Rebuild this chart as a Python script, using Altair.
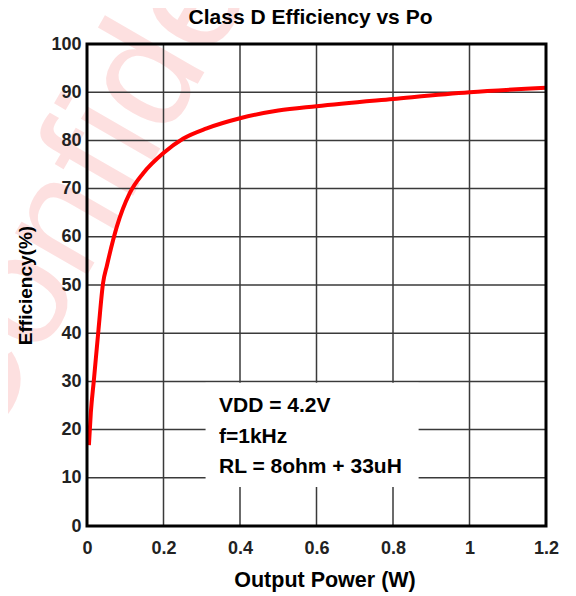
import altair as alt
import pandas as pd

# Data
power_w = [0.005, 0.01, 0.018, 0.03, 0.042, 0.052, 0.078, 0.112, 0.147, 0.2, 0.252, 0.313, 0.4, 0.5, 0.6, 0.8, 1.0, 1.2]
efficiency = [16.8, 23.5, 30.3, 40.7, 50.4, 54.0, 62.1, 69.1, 73.2, 77.4, 80.4, 82.5, 84.6, 86.2, 87.1, 88.6, 90.0, 90.9]

x_ticks = [0, 0.2, 0.4, 0.6, 0.8, 1.0, 1.2]
y_ticks = [0, 10, 20, 30, 40, 50, 60, 70, 80, 90, 100]

note_lines = ["VDD = 4.2V", "f=1kHz", "RL = 8ohm + 33uH"]
note_y = [23.6, 17.2, 10.9]

chart_title = "Class D Efficiency vs Po"
x_title = "Output Power (W)"
y_title = "Efficiency(%)"

FONT = "Liberation Sans"
W, H = 459, 482

curve = pd.DataFrame({"p": power_w, "eff": efficiency})
xg = pd.DataFrame({"p": x_ticks[1:-1]})
yg = pd.DataFrame({"eff": y_ticks[1:-1]})
notes = pd.DataFrame({"txt": note_lines, "eff": note_y, "p": [0.345] * len(note_lines)})
box_df = pd.DataFrame({"p": [0.31], "p2": [0.867], "eff": [29.7], "eff2": [8.1]})

xs = alt.Scale(domain=[0, 1.2], nice=False, zero=False)
ys = alt.Scale(domain=[0, 100], nice=False, zero=False)

xaxis = alt.Axis(values=x_ticks, format="~g", grid=False, ticks=False, domain=False, zindex=2,
                 labelFont=FONT, labelFontSize=18, labelFontWeight="bold", labelColor="#222",
                 labelPadding=13, titleFont=FONT, titleFontSize=21.5, titleFontWeight="bold",
                 titleColor="black", titlePadding=12, titleX=W / 2 + 8, labelFlush=False)
yaxis = alt.Axis(values=y_ticks, grid=False, ticks=False, domain=False, zindex=2,
                 labelFont=FONT, labelFontSize=18, labelFontWeight="bold", labelColor="#222",
                 labelPadding=6, titleFont=FONT, titleFontSize=19, titleFontWeight="bold",
                 titleColor="black", titlePadding=15, labelFlush=False)

X = lambda f: alt.X(f, scale=xs, axis=xaxis, title=x_title)
Y = lambda f: alt.Y(f, scale=ys, axis=yaxis, title=y_title)

watermark = alt.Chart(pd.DataFrame({"w": ["Confidential"]})).mark_text(
    font=FONT, fontSize=158, color="#fde0e0", angle=300,
    align="center", baseline="middle"
).encode(x=alt.value(62), y=alt.value(30), text="w:N")

title_mark = alt.Chart(pd.DataFrame({"t": [chart_title]})).mark_text(
    font=FONT, fontSize=21, fontWeight="bold", color="black",
    align="center", baseline="alphabetic"
).encode(x=alt.value(W / 2 - 6), y=alt.value(-20), text="t:N")

vgrid = alt.Chart(xg).mark_rule(color="#3a3a3a", strokeWidth=1.5).encode(x=X("p:Q"))
hgrid = alt.Chart(yg).mark_rule(color="#3a3a3a", strokeWidth=1.5).encode(y=Y("eff:Q"))

box = alt.Chart(box_df).mark_rect(fill="white").encode(
    x=X("p:Q"), x2="p2:Q", y=Y("eff:Q"), y2="eff2:Q"
)

note_text = alt.Chart(notes).mark_text(
    font=FONT, fontSize=21, fontWeight="bold", color="black",
    align="left", baseline="alphabetic"
).encode(x=X("p:Q"), y=Y("eff:Q"), text="txt:N")

line = alt.Chart(curve).mark_line(color="#ff0000", strokeWidth=4, interpolate="monotone").encode(
    x=X("p:Q"), y=Y("eff:Q")
)

frame = alt.Chart(pd.DataFrame({"a": [0]})).mark_rect(
    fillOpacity=0, fill="white", stroke="black", strokeWidth=3
).encode(x=alt.value(0), x2=alt.value(W), y=alt.value(0), y2=alt.value(H))

chart = alt.layer(watermark, vgrid, hgrid, box, note_text, line, frame, title_mark).properties(
    width=W, height=H,
    autosize=alt.AutoSizeParams(type="none"),
    padding={"left": 79, "top": 36, "right": 22, "bottom": 70},
).configure_view(stroke=None)

chart.save("out.html", embed_options={"renderer": "svg", "actions": False})
